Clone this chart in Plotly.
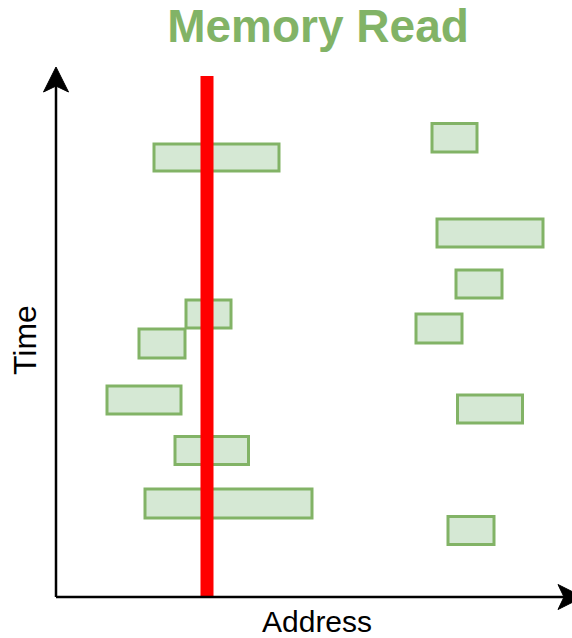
import plotly.graph_objs as go

# memory reads: address span and time span (origin at the axes corner)
addr_start = [98, 376, 381, 400, 130, 83, 360, 51, 401.5, 119, 89, 392]
addr_end = [223, 421, 487, 446, 175, 129, 406, 125, 466.5, 192.5, 256, 438]
time_start = [426, 445, 350, 299, 269, 239, 254, 183, 174, 132.5, 79, 52.5]
time_end = [453, 473.5, 378, 327, 297, 268, 283, 211, 202, 160.5, 108, 80.5]

# address that is being read the whole time
hot_address = 151
hot_time_end = 521

# axis extents (arrow tips)
addr_max = 527
time_max = 530
head = 25

fill_col = "#d5e8d4"
edge_col = "#82b366"

fig = go.Figure()
# empty trace so the axes exist
fig.add_trace(go.Scatter(x=[0], y=[0], mode="markers", marker=dict(opacity=0), showlegend=False, hoverinfo="skip"))

shapes = []
for a0, a1, t0, t1 in zip(addr_start, addr_end, time_start, time_end):
    shapes.append(dict(type="rect", xref="x", yref="y", x0=a0, x1=a1, y0=t0, y1=t1,
                       fillcolor=fill_col, line=dict(color=edge_col, width=3)))

shapes.append(dict(type="line", xref="x", yref="y", x0=hot_address, x1=hot_address,
                   y0=0, y1=hot_time_end, line=dict(color="#ff0000", width=13)))

# axes with notched arrow heads
notch = head - 6
shapes.append(dict(type="line", xref="x", yref="y", x0=0, x1=0, y0=0, y1=time_max - notch,
                   line=dict(color="black", width=2.5)))
shapes.append(dict(type="line", xref="x", yref="y", x0=0, x1=addr_max - notch, y0=0, y1=0,
                   line=dict(color="black", width=2.5)))
shapes.append(dict(type="path", xref="x", yref="y",
                   path=f"M 0 {time_max} L {-head/2} {time_max-head} L 0 {time_max-notch} L {head/2} {time_max-head} Z",
                   fillcolor="black", line=dict(color="black", width=1)))
shapes.append(dict(type="path", xref="x", yref="y",
                   path=f"M {addr_max} 0 L {addr_max-head} {head/2} L {addr_max-notch} 0 L {addr_max-head} {-head/2} Z",
                   fillcolor="black", line=dict(color="black", width=1)))

annotations = [
    dict(x=261, y=-24, xref="x", yref="y", text="Address", showarrow=False,
         font=dict(family="Liberation Sans, Arial", size=30, color="black")),
    dict(x=-31, y=257, xref="x", yref="y", text="Time", showarrow=False, textangle=-90,
         font=dict(family="Liberation Sans, Arial", size=32, color="black")),
]

fig.update_layout(
    width=572, height=638, autosize=False,
    margin=dict(l=0, r=0, t=0, b=0, autoexpand=False),
    paper_bgcolor="white", plot_bgcolor="white",
    xaxis=dict(range=[-56, 516], visible=False, fixedrange=True),
    yaxis=dict(range=[-41, 597], visible=False, fixedrange=True),
    shapes=shapes,
    annotations=annotations,
    title=dict(text="<b>Memory Read</b>", x=318 / 572, xanchor="center",
               y=1 - 26 / 638, yanchor="middle",
               font=dict(family="Liberation Sans, Arial", size=46, color=edge_col)),
    showlegend=False,
)

fig.write_html("out.html", config={"displayModeBar": False},
               post_script="document.body.style.margin='0';")
